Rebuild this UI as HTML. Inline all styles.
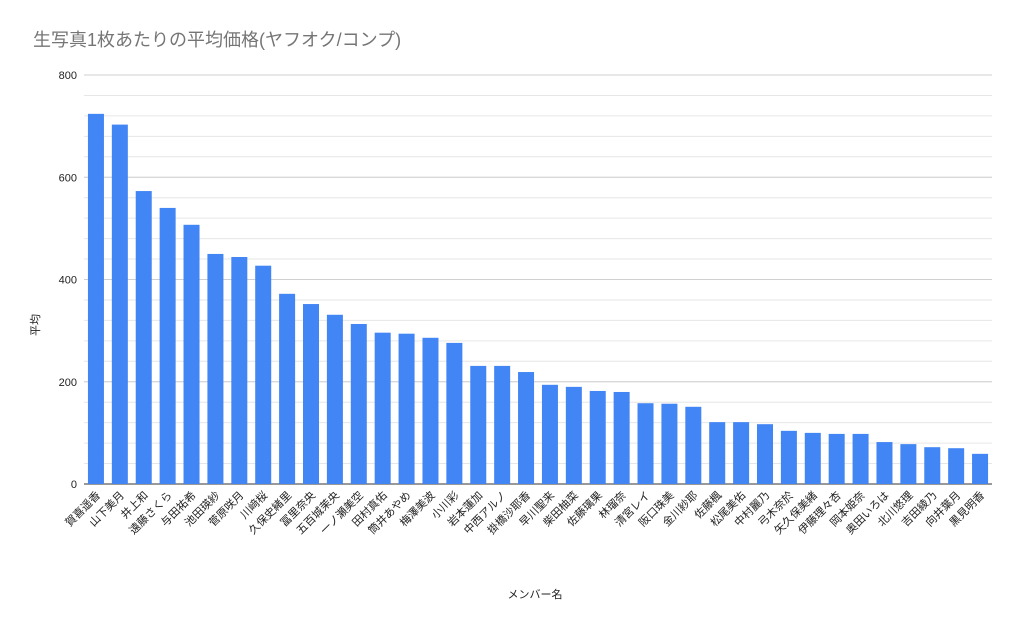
<!DOCTYPE html>
<html><head><meta charset="utf-8"><style>
body{margin:0;background:#fff;}
text{font-family:"Liberation Sans","Noto Sans CJK JP",sans-serif;}
</style></head><body>
<svg id="chart" width="1024" height="633" viewBox="0 0 1024 633" xmlns="http://www.w3.org/2000/svg">
<rect width="1024" height="633" fill="#fff"/>
<text x="33" y="46" font-size="18" fill="#757575">生写真1枚あたりの平均価格(ヤフオク/コンプ)</text>
<text transform="translate(39,325) rotate(-90)" text-anchor="middle" font-size="11" fill="#222">平均</text>
<text x="535" y="598" text-anchor="middle" font-size="11" fill="#222">メンバー名</text>
<g id="grid"></g><g id="bars"></g><g id="labels"></g>
</svg>
<script>
const categories=["賀喜遥香","山下美月","井上和","遠藤さくら","与田祐希","池田瑛紗","菅原咲月","川﨑桜","久保史緒里","冨里奈央","五百城茉央","一ノ瀬美空","田村真佑","筒井あやめ","梅澤美波","小川彩","岩本蓮加","中西アルノ","掛橋沙耶香","早川聖来","柴田柚菜","佐藤璃果","林瑠奈","清宮レイ","阪口珠美","金川紗耶","佐藤楓","松尾美佑","中村麗乃","弓木奈於","矢久保美緒","伊藤理々杏","岡本姫奈","奥田いろは","北川悠理","吉田綾乃","向井葉月","黒見明香"];
const values=[724,703,573,540,507,450,444,427,372,352,331,313,296,294,286,276,231,231,219,194,190,182,180,158,157,151,121,121,117,104,100,98,98,82,78,72,70,59];
const yTicks=[0,200,400,600,800];
const minorStep=40;
const NS="http://www.w3.org/2000/svg";
const x0=84,x1=992,yTop=75,yBot=484,yMax=800;
const y=v=>yBot-(v/yMax)*(yBot-yTop);
const step=(x1-x0)/categories.length;
const xc=i=>x0+step*(i+0.5);
function mk(tag,attrs,parent){const e=document.createElementNS(NS,tag);for(const k in attrs)e.setAttribute(k,attrs[k]);parent.appendChild(e);return e;}
const grid=document.getElementById('grid');
for(let v=0;v<=yMax;v+=minorStep){
  const l=mk('line',{x1:x0,x2:x1,y1:y(v),y2:y(v),stroke:'#e6e6e6','stroke-width':1},grid);
  
  
}
yTicks.forEach(v=>{
  const l=mk('line',{x1:x0,x2:x1,y1:y(v),y2:y(v),stroke:v===0?'#333':'#cfcfcf','stroke-width':1},grid);
  
  
  const t=mk('text',{x:77,y:y(v)+4,'text-anchor':'end','font-size':11,fill:'#222'},grid);
  t.textContent=v;
  
  
});
const bars=document.getElementById('bars'),labels=document.getElementById('labels');
const bw=16;
values.forEach((v,i)=>{
  const r=mk('rect',{x:xc(i)-bw/2,y:y(v),width:bw,height:yBot-y(v),fill:'#4285f4'},bars);
  
  
  const cx=xc(i)+5,cy=yBot+12;
  const t=mk('text',{x:cx,y:cy,'text-anchor':'end','font-size':11,fill:'#222',transform:`rotate(-45 ${cx} ${cy})`},labels);
  t.textContent=categories[i];
  
  
});
</script>
</body></html>
